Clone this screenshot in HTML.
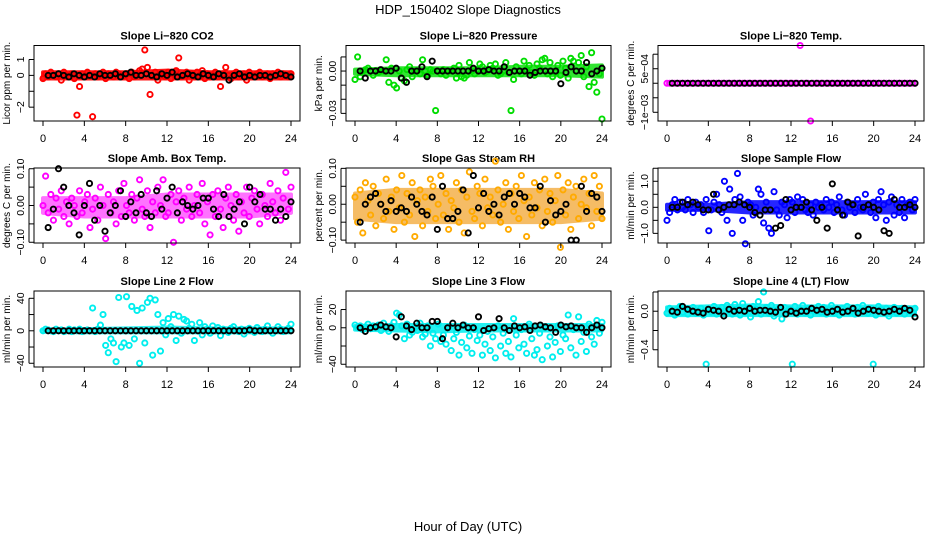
<!DOCTYPE html>
<html><head><meta charset="utf-8"><style>
html,body{margin:0;padding:0;background:#fff;}
svg{display:block;font-family:"Liberation Sans",Arial,sans-serif;}
</style></head><body>
<svg id="chart" width="936" height="540" viewBox="0 0 936 540">
<text x="468" y="14" text-anchor="middle" font-size="13">HDP_150402  Slope Diagnostics</text>
<text x="468" y="531" text-anchor="middle" font-size="13">Hour of Day (UTC)</text>
</svg>
<script>
// ---- data (values in scaled units; see panel scale) ----
const xTicks = [0,4,8,12,16,20,24];
const bandHours = [0,4,8,12,16,20,24];
const co2Color = [-2,1,-1,2,0,-1,1,-3,2,0,-1,1,-2,-25,-7,1,-1,2,0,-26,1,-1,0,2,-2,1,0,-1,2,1,-1,0,1,-2,2,-1,1,3,4,16,5,-12,-1,2,-3,1,0,-1,2,-2,1,3,11,-1,0,2,-3,1,-1,2,0,3,-2,1,-1,0,2,-1,-7,1,5,0,-2,1,2,-1,0,1,-3,2,0,-1,1,2,-1,0,1,-2,1,0,2,-1,1,0,-1,1];
const co2Black = [0,0,1,0,-1,1,0,-1,0,-1,1,0,0,1,-1,1,2,0,0,1,0,-1,1,0,2,-1,0,1,0,-1,1,0,-1,1,0,-3,0,1,-1,0,-1,0,0,-1,0,1,0,-1];
const co2BandHi = [2,2,2,3,2,2,2];
const co2BandLo = [-2,-2,-2,-2,-2,-2,-2];
const presColor = [-6,10,-4,0,1,2,0,-3,0,-1,0,0,8,-8,2,-10,-12,0,-5,-7,1,3,-4,0,0,-2,8,0,-3,1,0,-28,0,-2,1,-3,0,0,2,-5,4,-4,-5,-3,6,0,-2,1,5,3,-1,0,4,2,5,-3,-2,0,6,-1,-28,-6,3,0,-2,7,1,4,-1,-3,5,2,8,9,-2,6,-4,-1,4,-3,7,2,-5,9,7,0,6,11,-4,3,-11,13,-8,-15,-2,-34];
const presBlack = [0,-5,0,0,1,0,0,2,-5,-8,0,0,3,-4,7,0,0,0,0,0,0,0,2,0,0,1,0,0,3,-1,0,0,0,-3,-1,0,0,0,0,-9,-1,3,0,0,6,-2,0,2];
const presBandHi = [1,2,2,2,3,3,4];
const presBandLo = [-2,-3,-3,-3,-3,-3,-4];
const tempColor = [0,0,0,0,0,0,0,0,0,0,0,0,0,0,0,0,0,0,0,0,0,0,0,0,0,0,0,0,0,0,0,0,0,0,0,0,0,0,0,0,0,0,0,0,0,0,0,0,0,0,0,13,0,0,0,-13,0,0,0,0,0,0,0,0,0,0,0,0,0,0,0,0,0,0,0,0,0,0,0,0,0,0,0,0,0,0,0,0,0,0,0,0,0,0,0,0];
const tempBlack = [0,0,0,0,0,0,0,0,0,0,0,0,0,0,0,0,0,0,0,0,0,0,0,0,0,0,0,0,0,0,0,0,0,0,0,0,0,0,0,0,0,0,0,0,0,0,0,0];
const ambColor = [0,8,-2,3,-4,2,-1,4,-3,1,-5,2,0,-3,4,-2,1,3,-6,-1,2,-4,5,0,-9,3,-2,1,-5,4,-3,6,0,-2,3,-4,2,7,-1,-3,4,-6,1,-2,5,0,7,-3,-2,3,-10,1,4,-4,2,-1,5,-3,0,3,-2,6,-5,1,-8,3,-3,4,-1,-6,2,5,0,-4,3,-7,1,-2,5,-3,2,4,-1,-5,3,0,-3,6,1,-2,4,-4,2,9,-1,5];
const ambBlack = [-6,-1,10,5,0,-2,-8,0,6,-4,0,-7,-2,0,4,-3,1,-2,3,-2,-3,4,-1,2,5,-2,1,0,-1,0,2,2,-1,-3,3,-3,-1,1,-5,5,1,3,-1,-1,-4,-1,-3,1];
const ambBandHi = [2,2,2,3,3,3,3];
const ambBandLo = [-2,-3,-3,-3,-3,-3,-2];
const rhColor = [2,-5,4,-8,6,1,-3,5,-6,3,0,-4,7,-2,2,-7,4,-1,8,-5,3,-3,6,-9,1,4,-6,2,-2,7,5,-4,0,8,-3,3,-7,1,-1,6,-5,4,-8,2,9,-2,-4,5,3,-6,7,-1,2,-3,12,4,-5,0,6,-7,3,-2,5,-4,8,1,-9,2,-3,6,-1,4,-6,7,-2,3,-5,1,8,-12,4,-3,6,-7,2,5,-4,0,7,-1,3,-6,8,-2,5,-4];
const rhBlack = [-5,0,2,3,0,-2,1,-2,-1,-2,2,0,-2,-3,2,-7,5,-4,-4,-2,4,-8,8,-1,3,-2,0,-3,2,3,0,3,2,-1,-1,5,-5,1,-3,-2,0,-10,-10,5,-2,3,2,-2];
const rhBandHi = [3,4,4,4,4,4,3];
const rhBandLo = [-4,-5,-5,-5,-5,-5,-4];
const sflowColor = [-5,-2,1,3,-1,2,0,-1,3,1,-2,2,0,1,-2,3,-9,-1,2,5,1,-2,10,-5,7,-10,3,13,4,-5,-14,2,1,-3,0,7,5,-6,2,-8,-10,6,-1,-3,2,1,-4,3,2,-2,4,0,3,-1,-2,1,-3,2,0,1,-1,3,0,2,-2,1,4,-1,-3,2,0,1,-2,3,0,-1,5,1,-2,2,-4,3,6,1,-5,2,4,-3,1,-2,3,-4,1,2,-1,3];
const sflowBlack = [0,0,2,1,2,1,-1,-1,5,-1,0,1,1,2,1,0,-2,-3,-1,-1,-8,-7,3,-1,0,0,2,-1,-5,0,-8,9,-1,-3,2,1,-11,0,1,0,-1,-9,-10,3,0,0,1,0];
const sflowBandHi = [1,1,2,2,2,2,2];
const sflowBandLo = [-1,-1,-2,-2,-2,-2,-2];
const l2Color = [0,2,1,0,-1,2,0,1,-1,0,2,-1,1,0,2,-1,0,1,0,28,-1,2,7,20,-18,-27,-10,-15,-38,41,-20,-15,42,-18,30,-10,25,-40,28,-15,35,40,-30,38,20,-25,10,-5,15,5,20,-12,18,-3,14,12,3,8,-12,0,10,-5,5,2,-3,6,0,4,-6,2,1,-2,3,5,0,-1,2,-4,1,3,0,-2,4,1,-1,2,6,0,-3,1,5,2,-1,0,3,8];
const l2Black = [0,0,0,0,0,0,0,0,0,0,0,0,0,0,0,0,0,0,0,0,0,0,0,0,0,0,0,0,0,0,0,0,0,0,0,0,0,0,0,1,0,0,0,0,0,0,0,0];
const l2BandHi = [1,2,3,4,3,3,3];
const l2BandLo = [-1,-2,-2,-2,-2,-2,-2];
const l3Color = [3,0,2,-2,1,4,-1,2,0,3,-3,5,1,-4,2,6,16,14,2,-12,4,-8,-5,0,-3,5,-10,-7,2,-20,-6,-12,4,-15,-8,-18,1,-25,-12,-5,-30,-16,3,-22,-9,-28,-2,-14,-8,-30,-18,-4,-25,-10,-33,2,-20,-6,-28,-15,-32,10,-8,-22,-2,-18,-28,4,-12,-30,-24,-6,-35,0,-20,-10,-32,-16,2,-26,-8,-12,14,-22,-2,-30,12,-15,-5,-26,4,-10,-18,8,-6,6];
const l3Black = [0,-4,0,1,3,1,0,-10,12,2,-2,5,0,0,7,7,-12,0,5,0,3,0,0,12,-3,-1,0,10,0,-3,2,0,1,-3,2,3,1,0,-5,3,1,2,0,0,-5,0,3,0];
const l3BandHi = [2,3,3,3,3,3,3];
const l3BandLo = [-2,-3,-4,-3,-3,-3,-3];
const l4Color = [-2,3,0,-4,2,5,-1,3,-3,1,4,-2,0,3,-4,-55,2,-1,5,-3,1,4,-2,6,0,-3,7,2,-4,8,-1,3,-6,5,2,10,-3,20,4,-2,6,-5,1,3,-8,4,0,2,-55,5,-3,1,6,-2,3,-4,2,0,5,-1,4,-3,2,6,-2,1,-4,3,0,5,-1,2,-3,4,0,6,0,-2,3,-55,-4,5,2,-1,3,-5,0,4,-2,1,3,-3,2,0,-1,3];
const l4Black = [0,-1,5,2,0,-1,-2,2,1,0,-5,2,0,1,0,3,0,1,1,0,-1,4,-3,0,-2,0,0,3,1,2,-1,0,2,-1,0,3,-2,0,2,1,0,-1,0,2,0,3,1,-6];
const l4BandHi = [4,5,6,5,5,5,4];
const l4BandLo = [-4,-4,-4,-4,-4,-4,-4];

const panels = [
 {name:'co2',title:'Slope Li\u2212820 CO2',ylab:'Licor ppm per min.',col:'#ff0000',op:0.9,c:co2Color,k:co2Black,hi:co2BandHi,lo:co2BandLo,scale:0.1,ylim:[-2.87,1.88],ticks:[-2,-1,0,1],labels:{'1':'1','0':'0','-2':'\u22122'}},
 {name:'pressure',title:'Slope Li\u2212820 Pressure',ylab:'kPa per min.',col:'#00dd00',op:0.8,c:presColor,k:presBlack,hi:presBandHi,lo:presBandLo,scale:0.001,ylim:[-0.0354,0.0181],ticks:[-0.03,-0.02,-0.01,0,0.01],labels:{'0':'0.00','-0.03':'\u22120.03'}},
 {name:'temp',title:'Slope Li\u2212820 Temp.',ylab:'degrees C per min.',col:'#ff00ff',c:tempColor,k:tempBlack,hi:null,lo:null,scale:0.0001,ylim:[-0.0013,0.0013],ticks:[-0.001,-0.0005,0,0.0005,0.001],labels:{'0.0005':'5e\u221204','-0.001':'\u22121e\u221203'}},
 {name:'amb-box',title:'Slope Amb. Box Temp.',ylab:'degrees C per min.',col:'#ff00ff',op:0.55,c:ambColor,k:ambBlack,hi:ambBandHi,lo:ambBandLo,scale:0.01,ylim:[-0.102,0.102],ticks:[-0.1,-0.05,0,0.05,0.1],labels:{'0.1':'0.10','0':'0.00','-0.1':'\u22120.10'}},
 {name:'gas-rh',title:'Slope Gas Stream RH',ylab:'percent per min.',col:'#ffaa00',bandCol:'#f09000',op:0.6,c:rhColor,k:rhBlack,hi:rhBandHi,lo:rhBandLo,scale:0.01,ylim:[-0.108,0.101],ticks:[-0.1,-0.05,0,0.05,0.1],labels:{'0.1':'0.10','0':'0.00','-0.1':'\u22120.10'}},
 {name:'sample-flow',title:'Slope Sample Flow',ylab:'ml/min per min.',col:'#0000ff',op:0.85,c:sflowColor,k:sflowBlack,hi:sflowBandHi,lo:sflowBandLo,scale:0.1,ylim:[-1.37,1.51],ticks:[-1,-0.5,0,0.5,1,1.5],labels:{'1':'1.0','0':'0.0','-1':'\u22121.0'}},
 {name:'line2-flow',title:'Slope Line 2 Flow',ylab:'ml/min per min.',col:'#00eeee',op:0.8,c:l2Color,k:l2Black,hi:l2BandHi,lo:l2BandLo,scale:1,ylim:[-44.6,49],ticks:[-40,-20,0,20,40],labels:{'40':'40','0':'0','-40':'\u221240'}},
 {name:'line3-flow',title:'Slope Line 3 Flow',ylab:'ml/min per min.',col:'#00eeee',op:0.85,c:l3Color,k:l3Black,hi:l3BandHi,lo:l3BandLo,scale:1,ylim:[-43,40.3],ticks:[-40,-20,0,20],labels:{'20':'20','0':'0','-40':'\u221240'}},
 {name:'line4-flow',title:'Slope Line 4 (LT) Flow',ylab:'ml/min per min.',col:'#00eeee',op:0.85,c:l4Color,k:l4Black,hi:l4BandHi,lo:l4BandLo,scale:0.01,ylim:[-0.579,0.21],ticks:[-0.4,-0.2,0,0.2],labels:{'0':'0.0','-0.4':'\u22120.4'}}
];
const colBox = [[34,300],[346,611],[658,924]];
const rowBox = [[45.5,121],[168,243],[291,367]];
const NS='http://www.w3.org/2000/svg';
const svg=document.getElementById('chart');
function mk(tag,attrs,parent,text){const e=document.createElementNS(NS,tag);for(const a in attrs)e.setAttribute(a,attrs[a]);if(text!==undefined)e.textContent=text;(parent||svg).appendChild(e);return e;}

panels.forEach((p,pi)=>{
  const [bl,br]=colBox[pi%3];const [bt,bb]=rowBox[Math.floor(pi/3)];
  const x0=bl+9,x1=br-9;
  const xs=v=>x0+(v/24)*(x1-x0);
  const ys=v=>bb-(v-p.ylim[0])/(p.ylim[1]-p.ylim[0])*(bb-bt);
  const g=mk('g',{});
  
  
  const t=mk('text',{x:(bl+br)/2,y:bt-6,'text-anchor':'middle','font-size':'11','font-weight':'bold'},g,p.title);
  
  
  // dense core band
  if(p.hi){
    const up=bandHours.map((h,i)=>xs(h)+','+ys(p.hi[i]*p.scale));
    const dn=bandHours.map((h,i)=>xs(h)+','+ys(p.lo[i]*p.scale)).reverse();
    const poly=mk('polygon',{points:up.concat(dn).join(' '),fill:p.bandCol||p.col,stroke:p.bandCol||p.col,'stroke-width':'4','stroke-linejoin':'round','opacity':p.op},g);
    
    
  }
  // points
  const pts=mk('g',{fill:'none','stroke-width':'1.9'},g);
  
  
  const nC=p.c.length;
  p.c.forEach((v,i)=>{
    const c=mk('circle',{cx:xs(i*24/(nC-1)),cy:ys(v*p.scale),r:2.6,stroke:p.col},pts);
    
    
  });
  const ptk=mk('g',{fill:'none','stroke-width':'1.9'},g);
  
  
  const nK=p.k.length;
  p.k.forEach((v,i)=>{
    const c=mk('circle',{cx:xs(0.5+i*23.5/(nK-1)),cy:ys(v*p.scale),r:2.6,stroke:'#000'},ptk);
    
    
  });
  // box
  const box=mk('rect',{x:bl,y:bt,width:br-bl,height:bb-bt,fill:'none',stroke:'#000','stroke-width':'1'},g);
  
  
  // x axis
  const xa=mk('g',{stroke:'#000','stroke-width':'1'},g);
  
  
  xTicks.forEach(v=>{
    mk('line',{x1:xs(v),x2:xs(v),y1:bb,y2:bb+5},xa);
    const l=mk('text',{x:xs(v),y:bb+21,'text-anchor':'middle','font-size':'11',stroke:'none',fill:'#000'},xa,String(v));
    
    
  });
  // y axis
  const ya=mk('g',{stroke:'#000','stroke-width':'1'},g);
  
  
  mk('line',{x1:bl-5,x2:bl-5,y1:ys(p.ticks[0]),y2:ys(p.ticks[p.ticks.length-1])},ya);
  p.ticks.forEach(v=>{
    mk('line',{x1:bl-5,x2:bl,y1:ys(v),y2:ys(v)},ya);
    const key=String(v);
    if(p.labels[key]!==undefined){
      const lx=bl-10,ly=ys(v);
      const l=mk('text',{x:lx,y:ly,'text-anchor':'middle','font-size':'10.5',stroke:'none',fill:'#000',transform:`rotate(-90 ${lx} ${ly})`},ya,p.labels[key]);
      
      
    }
  });
  const yx=bl-24,yy=(bt+bb)/2;
  const yl=mk('text',{x:yx,y:yy,'text-anchor':'middle','font-size':'10',transform:`rotate(-90 ${yx} ${yy})`},g,p.ylab);
  
  
});
</script>
</body></html>
